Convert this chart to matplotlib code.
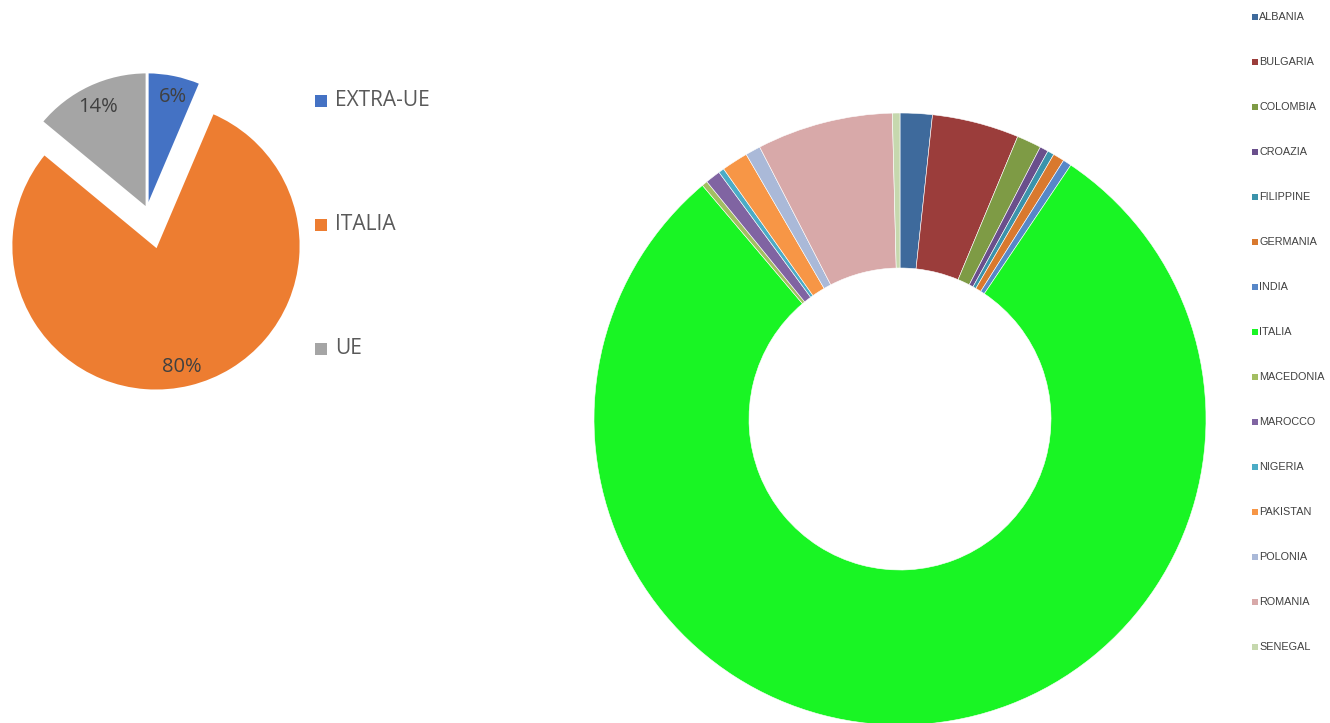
import matplotlib
matplotlib.use("Agg")
import matplotlib.pyplot as plt

# ---- data ----
left_labels = ["EXTRA-UE", "ITALIA", "UE"]
left_values = [6.4, 79.6, 14.0]
left_colors = ["#4472C4", "#ED7D31", "#A5A5A5"]

countries = ["ALBANIA", "BULGARIA", "COLOMBIA", "CROAZIA", "FILIPPINE", "GERMANIA",
             "INDIA", "ITALIA", "MACEDONIA", "MAROCCO", "NIGERIA", "PAKISTAN",
             "POLONIA", "ROMANIA", "SENEGAL"]
country_values = [1.7, 4.6, 1.3, 0.45, 0.35, 0.6, 0.45, 79.6, 0.3, 0.8, 0.3, 1.4,
                  0.8, 7.2, 0.4]
country_colors = ["#3E6A9C", "#9B3D3B", "#7E9B45", "#6A4F8C", "#3B93AB", "#D9792E",
                  "#5787C8", "#19F524", "#A3BE62", "#8064A2", "#4BACC6", "#F79646",
                  "#AAB9D8", "#D8A9A9", "#C6D8AE"]

W, H = 1330, 723
fig = plt.figure(figsize=(W / 100, H / 100), dpi=100)
ax = fig.add_axes([0, 0, 1, 1])
ax.set_xlim(0, W)
ax.set_ylim(0, H)
ax.set_aspect("equal")
ax.axis("off")

# ---- left pie ----
r1 = 137
wedges, texts, autotexts = ax.pie(
    left_values, colors=left_colors, explode=[0, 38, 0], startangle=90,
    counterclock=False, center=(147, H - 209), radius=r1,
    autopct="%.0f%%", pctdistance=0.8,
    textprops=dict(fontsize=14.5, color="#404040", family="Open Sans"),
    wedgeprops=dict(linewidth=2, edgecolor="white"))
wedges[1].set_radius(145)
autotexts[0].set_position((173, H - 97))
autotexts[2].set_position((98, H - 107))
autotexts[1].set_position((182, H - 367))

for i, (lab, col) in enumerate(zip(left_labels, left_colors)):
    y = H - (101 + i * 124)
    ax.scatter([321], [y], marker="s", s=70, color=col, linewidths=0)
    ax.text(335, y, lab, fontsize=15, color="#595959", family="Open Sans",
            va="center", ha="left")

# ---- donut ----
r2 = 306
ax.pie(country_values, colors=country_colors, startangle=90, counterclock=False,
       center=(900, H - 419), radius=r2,
       wedgeprops=dict(width=155, linewidth=0.4, edgecolor="white"))

for i, (lab, col) in enumerate(zip(countries, country_colors)):
    y = H - (17 + i * 45)
    ax.scatter([1255], [y], marker="s", s=14, color=col, linewidths=0)
    ax.text(1259, y, lab, fontsize=7.8, color="#404040", family="Liberation Sans",
            va="center", ha="left")

ax.set_xlim(0, W)
ax.set_ylim(0, H)
fig.savefig("out.png", dpi=100)
